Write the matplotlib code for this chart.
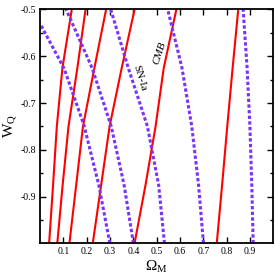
import matplotlib
matplotlib.use('Agg')
import matplotlib.pyplot as plt
from matplotlib.ticker import FixedLocator, FixedFormatter

plt.rcParams['font.family'] = 'Liberation Serif'
plt.rcParams['mathtext.fontset'] = 'custom'
plt.rcParams['mathtext.rm'] = 'Liberation Serif'
plt.rcParams['mathtext.it'] = 'Liberation Serif:italic'
plt.rcParams['axes.unicode_minus'] = False

# w values where each curve was read
w_pts = [-1.0, -0.875, -0.75, -0.625, -0.5]

# CMB contours (red, solid): Omega_M at each w
cmb_1 = [0.039, 0.056, 0.072, 0.096, 0.136]
cmb_2 = [0.074, 0.097, 0.122, 0.160, 0.195]
cmb_3 = [0.126, 0.155, 0.184, 0.233, 0.283]
cmb_4 = [0.226, 0.262, 0.298, 0.350, 0.405]
cmb_5 = [0.405, 0.452, 0.495, 0.530, 0.584]
cmb_6 = [0.757, 0.780, 0.802, 0.825, 0.849]

# SN-Ia contours (blue, dotted)
sn_1_om = [0.299, 0.252, 0.188, 0.103, 0.0]
sn_1_w = [-1.0, -0.876, -0.747, -0.626, -0.53]
sn_2 = [0.400, 0.360, 0.305, 0.223, 0.112]
sn_3 = [0.533, 0.508, 0.460, 0.378, 0.303]
sn_4 = [0.700, 0.679, 0.650, 0.608, 0.547]
sn_5 = [0.913, 0.907, 0.899, 0.887, 0.870]

x_ticks = [0.1, 0.2, 0.3, 0.4, 0.5, 0.6, 0.7, 0.8, 0.9]
y_major = [-0.9, -0.8, -0.7, -0.6, -0.5]
y_minor = [-0.95, -0.85, -0.75, -0.65, -0.55]

red = '#ff0000'
blue = '#7a33ff'

fig = plt.figure(figsize=(2.75, 2.79), dpi=100)
ax = fig.add_axes([0.1455, 0.128, 0.849, 0.838])

for om in [cmb_1, cmb_2, cmb_3, cmb_4, cmb_5, cmb_6]:
    ax.plot(om, w_pts, color=red, lw=1.5)

ax.plot(sn_1_om, sn_1_w, color=blue, lw=2.2, dashes=(1.1, 0.75), dash_capstyle='butt')
for om in [sn_2, sn_3, sn_4, sn_5]:
    ax.plot(om, w_pts, color=blue, lw=2.2, dashes=(1.1, 0.75), dash_capstyle='butt')

ax.text(0.513, -0.593, 'CMB', fontsize=8, style='italic', rotation=72,
        ha='center', va='center')
ax.text(0.428, -0.647, 'SN-Ia', fontsize=8, rotation=-73,
        ha='center', va='center')

ax.set_xlim(0, 1.0)
ax.set_ylim(-1.0, -0.5)
ax.xaxis.set_major_locator(FixedLocator(x_ticks))
ax.xaxis.set_major_formatter(FixedFormatter([str(t) for t in x_ticks]))
ax.yaxis.set_major_locator(FixedLocator(y_major))
ax.yaxis.set_major_formatter(FixedFormatter([str(t) for t in y_major]))
ax.yaxis.set_minor_locator(FixedLocator(y_minor))
ax.tick_params(which='both', direction='in', top=True, right=True,
               labelsize=7, width=1.0)
ax.tick_params(which='major', length=4, pad=3)
ax.tick_params(which='minor', length=2.5)
for s in ax.spines.values():
    s.set_linewidth(1.3)

ax.set_xlabel(r'$\Omega_{\rm M}$', fontsize=11, labelpad=2)
ax.set_ylabel(r'W$_{\rm Q}$', fontsize=11, labelpad=2)

fig.savefig('out.png', dpi=100)
